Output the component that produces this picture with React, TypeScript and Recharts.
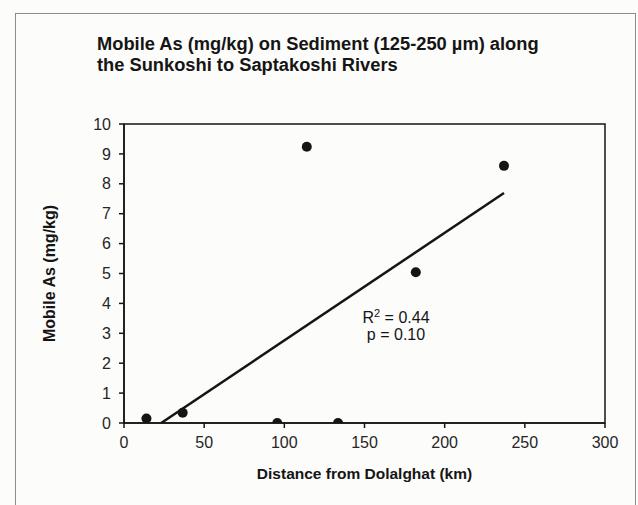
import React from 'react'
import { ComposedChart, Scatter, XAxis, YAxis, ReferenceArea, Label } from 'recharts'

// distance from Dolalghat (km) and mobile As (mg/kg)
const distanceKm = [14, 36.6, 95.6, 114, 133.5, 182, 237]
const mobileAs = [0.15, 0.34, 0, 9.24, 0, 5.04, 8.6]
// fitted line ends (clipped at zero on the left)
const fitX = [23.2, 237]
const fitY = [0, 7.69]
const xTicks = [0, 50, 100, 150, 200, 250, 300]
const yTicks = [0, 1, 2, 3, 4, 5, 6, 7, 8, 9, 10]

const FONT = '"Liberation Sans", Arial, sans-serif'
const INK = '#151515'
const TICK = { fill: '#262626', fontSize: 16, fontFamily: FONT }

const points = distanceKm.map((x, i) => ({ x, y: mobileAs[i] }))
const fit = fitX.map((x, i) => ({ x, y: fitY[i] }))

export default function App() {
  return (
    <div style={{ position: 'absolute', left: 0, top: 0, width: 638, height: 505, background: '#fcfcfb', overflow: 'hidden' }}>
      <div
        style={{
          position: 'absolute', left: 15, top: 13, width: 621, height: 500,
          border: '1.5px solid #8c8c8c', boxSizing: 'border-box',
        }}
      />
      <ComposedChart
        width={638}
        height={505}
        margin={{ top: 124, right: 33, bottom: 0, left: 0 }}
        style={{ position: 'absolute', left: 0, top: 0 }}
      >
        <text x={97} y={50} fontFamily={FONT} fontWeight={700} fontSize={18.3} fill={INK}>
          Mobile As (mg/kg) on Sediment (125-250 µm) along
        </text>
        <text x={97} y={71} fontFamily={FONT} fontWeight={700} fontSize={18.3} fill={INK}>
          the Sunkoshi to Saptakoshi Rivers
        </text>
        <XAxis
          dataKey="x"
          type="number"
          domain={[0, 300]}
          ticks={xTicks}
          height={82}
          tick={TICK}
          tickSize={5}
          tickMargin={9}
          stroke={INK}
          strokeWidth={1.5}
          allowDataOverflow
        >
          <Label
            content={({ viewBox }: any) => (
              <text
                x={viewBox.x + viewBox.width / 2}
                y={479}
                textAnchor="middle"
                fontFamily={FONT}
                fontWeight={700}
                fontSize={15.5}
                fill={INK}
              >
                Distance from Dolalghat (km)
              </text>
            )}
          />
        </XAxis>
        <YAxis
          dataKey="y"
          type="number"
          domain={[0, 10]}
          ticks={yTicks}
          width={124}
          tick={TICK}
          tickSize={5}
          tickMargin={8}
          stroke={INK}
          strokeWidth={1.5}
          allowDataOverflow
        >
          <Label
            content={({ viewBox }: any) => {
              const cy = viewBox.y + viewBox.height / 2
              return (
                <text
                  x={55}
                  y={cy}
                  transform={`rotate(-90 55 ${cy})`}
                  textAnchor="middle"
                  fontFamily={FONT}
                  fontWeight={700}
                  fontSize={16}
                  fill={INK}
                >
                  Mobile As (mg/kg)
                </text>
              )
            }}
          />
        </YAxis>
        <ReferenceArea x1={0} x2={300} y1={0} y2={10} fill="none" stroke={INK} strokeWidth={1.5} />
        <Scatter
          data={fit}
          line={{ stroke: INK, strokeWidth: 2.5 }}
          shape={() => null}
          isAnimationActive={false}
        />
        <Scatter
          data={points}
          isAnimationActive={false}
          shape={(p: any) => <circle cx={p.cx} cy={p.cy} r={5} fill={INK} />}
        />
        <text x={396} y={323} textAnchor="middle" fontFamily={FONT} fontSize={16} fill={INK}>
          R<tspan dy={-6} fontSize={11}>2</tspan>
          <tspan dy={6}> = 0.44</tspan>
        </text>
        <text x={396} y={340} textAnchor="middle" fontFamily={FONT} fontSize={16} fill={INK}>
          p = 0.10
        </text>
      </ComposedChart>
    </div>
  )
}
